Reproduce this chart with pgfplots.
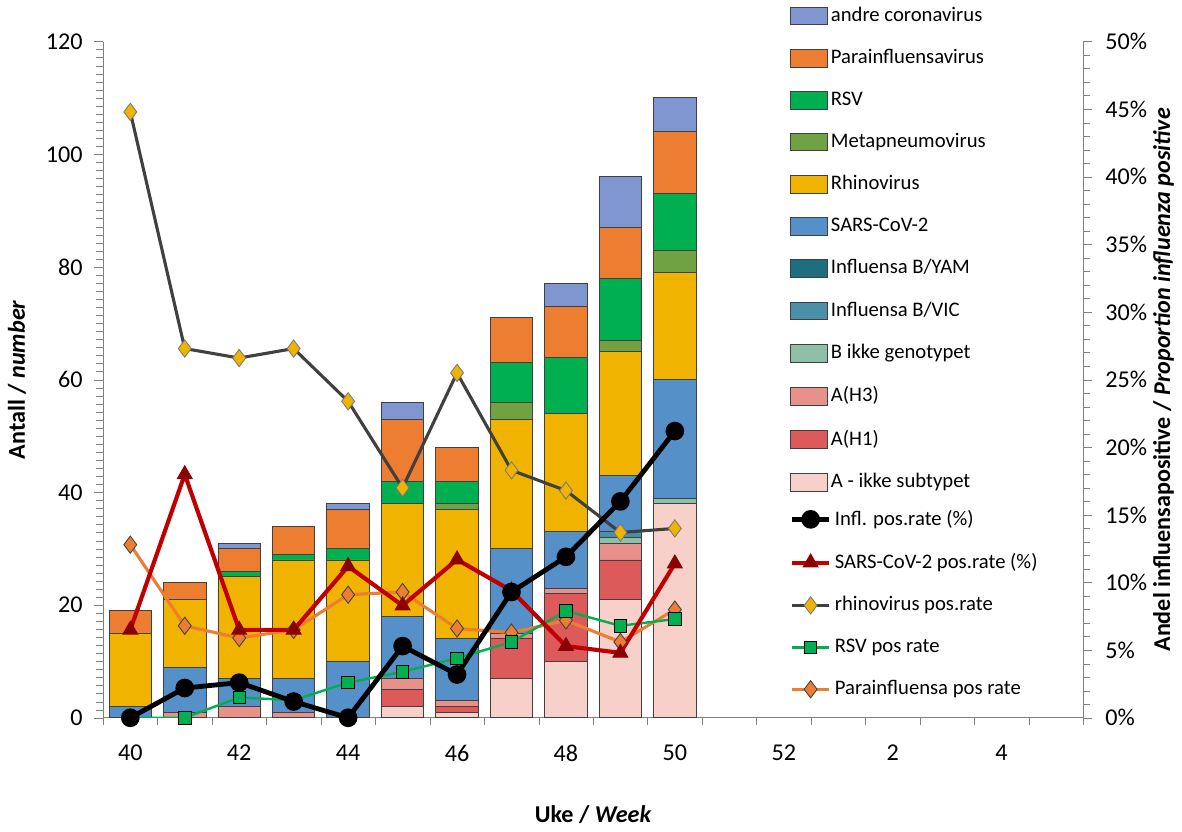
\documentclass[border=0pt]{standalone}
\usepackage{pgfplots}
\pgfplotsset{compat=1.18}
\usepackage{pgfplotstable}
\usepackage{fontspec}
\setmainfont{Carlito}
\definecolor{cAndre}{RGB}{127,150,208}
\definecolor{cPara}{RGB}{237,125,49}
\definecolor{cRSV}{RGB}{0,176,80}
\definecolor{cMeta}{RGB}{112,161,66}
\definecolor{cRhino}{RGB}{240,180,0}
\definecolor{cSars}{RGB}{85,144,200}
\definecolor{cYam}{RGB}{31,110,128}
\definecolor{cVic}{RGB}{74,144,168}
\definecolor{cBik}{RGB}{143,191,168}
\definecolor{cH3}{RGB}{232,144,138}
\definecolor{cH1}{RGB}{220,90,90}
\definecolor{cAik}{RGB}{248,208,202}
\definecolor{cSline}{RGB}{192,0,0}
\definecolor{cSmark}{RGB}{139,0,0}
\definecolor{cGray}{RGB}{64,64,64}
\pgfplotstableread{
x Aik H1 H3 Bik Vic Yam Sars Rhino Meta RSV Para Andre
0 0 0 0 0 0 0 2 13 0 0 4 0
1 0 0 1 0 0 0 8 12 0 0 3 0
2 0 0 2 0 0 0 5 18 0 1 4 1
3 0 0 1 0 0 0 6 21 0 1 5 0
4 0 0 0 0 0 0 10 18 0 2 7 1
5 2 3 2 0 0 0 11 20 0 4 11 3
6 1 1 1 0 0 0 11 23 1 4 6 0
7 7 7 1 0 0 0 15 23 3 7 8 0
8 10 12 1 0 0 0 10 21 0 10 9 4
9 21 7 3 1 1 0 10 22 2 11 9 9
10 38 0 0 1 0 0 21 19 4 10 11 6
}\bars
\pgfplotstableread{
x Infl Sars Rhino RSV Para
0 0 6.5 44.8 0 12.8
1 2.2 18.0 27.3 0 6.8
2 2.6 6.5 26.6 1.5 5.9
3 1.2 6.5 27.3 1.3 6.5
4 0 11.2 23.4 2.6 9.1
5 5.3 8.3 17.0 3.4 9.3
6 3.2 11.7 25.5 4.4 6.6
7 9.3 9.4 18.3 5.6 6.3
8 11.9 5.3 16.8 7.9 7.2
9 16.0 4.8 13.7 6.8 5.6
10 21.2 11.4 14.0 7.3 8.0
}\rates
\begin{document}
\fontsize{14}{17}\selectfont
\begin{tikzpicture}
\begin{axis}[
  scale only axis, width=568.8pt, height=392.4pt,
  xmin=-0.5, xmax=17.5, ymin=0, ymax=120,
  axis x line*=bottom, axis y line*=left,
  /pgf/number format/assume math mode=true,
  ticklabel style={font=\fontsize{14}{17}\selectfont},
  xtick={0,2,...,16}, xticklabels={40,42,44,46,48,50,52,2,4},
  major x tick style={draw=none},
  minor xtick={-0.5,0.5,...,17.5},
  x tick label style={yshift=-6pt},
  y tick label style={xshift=-2pt},
  ytick={0,20,...,120}, minor y tick num=13,
  tick align=outside, major tick length=5pt, minor tick length=4pt,
  tick style={gray}, axis line style={gray},
  xlabel={\textbf{Uke / \textit{Week}}}, xlabel style={yshift=-16pt},
  ylabel={\textbf{Antall / \textit{number}}}, ylabel style={yshift=2pt},
  ybar stacked, bar width=0.78,
  every axis plot/.append style={draw=black!75, line width=0.5pt},
  reverse legend,
  legend style={draw=none, fill=none, at={(rel axis cs:0.695,1.062)}, anchor=north west,
    row sep=10.2pt, font=\fontsize{12}{14}\selectfont, cells={anchor=west}},
  legend image code/.code={\draw[#1,draw=black!75] (0cm,-0.18cm) rectangle (0.75cm,0.18cm);},
]
\addplot[fill=cAik] table[x=x,y=Aik]{\bars}; \addlegendentry{A - ikke subtypet}
\addplot[fill=cH1] table[x=x,y=H1]{\bars}; \addlegendentry{A(H1)}
\addplot[fill=cH3] table[x=x,y=H3]{\bars}; \addlegendentry{A(H3)}
\addplot[fill=cBik] table[x=x,y=Bik]{\bars}; \addlegendentry{B ikke genotypet}
\addplot[fill=cVic] table[x=x,y=Vic]{\bars}; \addlegendentry{Influensa B/VIC}
\addplot[fill=cYam] table[x=x,y=Yam]{\bars}; \addlegendentry{Influensa B/YAM}
\addplot[fill=cSars] table[x=x,y=Sars]{\bars}; \addlegendentry{SARS-CoV-2}
\addplot[fill=cRhino] table[x=x,y=Rhino]{\bars}; \addlegendentry{Rhinovirus}
\addplot[fill=cMeta] table[x=x,y=Meta]{\bars}; \addlegendentry{Metapneumovirus}
\addplot[fill=cRSV] table[x=x,y=RSV]{\bars}; \addlegendentry{RSV}
\addplot[fill=cPara] table[x=x,y=Para]{\bars}; \addlegendentry{Parainfluensavirus}
\addplot[fill=cAndre] table[x=x,y=Andre]{\bars}; \addlegendentry{andre coronavirus}
\end{axis}
\begin{axis}[
  scale only axis, width=568.8pt, height=392.4pt,
  xmin=-0.5, xmax=17.5, ymin=0, ymax=50,
  axis x line=none, axis y line*=right,
  /pgf/number format/assume math mode=true,
  ticklabel style={font=\fontsize{14}{17}\selectfont},
  ytick={0,5,...,50}, yticklabel={\pgfmathprintnumber{\tick}\%},
  y tick label style={xshift=3pt},
  minor y tick num=4,
  tick align=outside, major tick length=5pt, minor tick length=4pt,
  tick style={gray}, axis line style={gray},
  ylabel={\textbf{Andel influensapositive / \textit{Proportion influenza positive}}},
  ylabel style={yshift=6pt},
  reverse legend,
  legend style={draw=none, fill=none, at={(rel axis cs:0.695,0.318)}, anchor=north west,
    row sep=10.2pt, font=\fontsize{12}{14}\selectfont, cells={anchor=west}},
  legend image code/.code={\draw[#1] (0cm,0cm) -- (0.375cm,0cm) (0.75cm,0cm) -- (0.375cm,0cm) plot coordinates {(0.375cm,0cm)};},
]
\addplot[cPara, line width=1.8pt, mark=diamond*, mark size=5pt, mark options={fill=cPara, draw=cGray, line width=0.5pt}] table[x=x,y=Para]{\rates}; \addlegendentry{Parainfluensa pos rate}
\addplot[cRSV, line width=1.4pt, mark=square*, mark size=3.6pt, mark options={fill=cRSV, draw=black, line width=0.5pt}] table[x=x,y=RSV]{\rates}; \addlegendentry{RSV pos rate}
\addplot[cGray, line width=1.8pt, mark=diamond*, mark size=5pt, mark options={fill=cRhino, draw=cGray!70, line width=0.5pt}] table[x=x,y=Rhino]{\rates}; \addlegendentry{rhinovirus pos.rate}
\addplot[cSline, line width=2.4pt, mark=triangle*, mark size=5pt, mark options={fill=cSmark, draw=cSmark, line width=0.5pt}] table[x=x,y=Sars]{\rates}; \addlegendentry{SARS-CoV-2 pos.rate (\%)}
\addplot[black, line width=2.8pt, mark=*, mark size=4pt, mark options={fill=black}] table[x=x,y=Infl]{\rates}; \addlegendentry{Infl. pos.rate (\%)}
\end{axis}
\end{tikzpicture}
\end{document}
